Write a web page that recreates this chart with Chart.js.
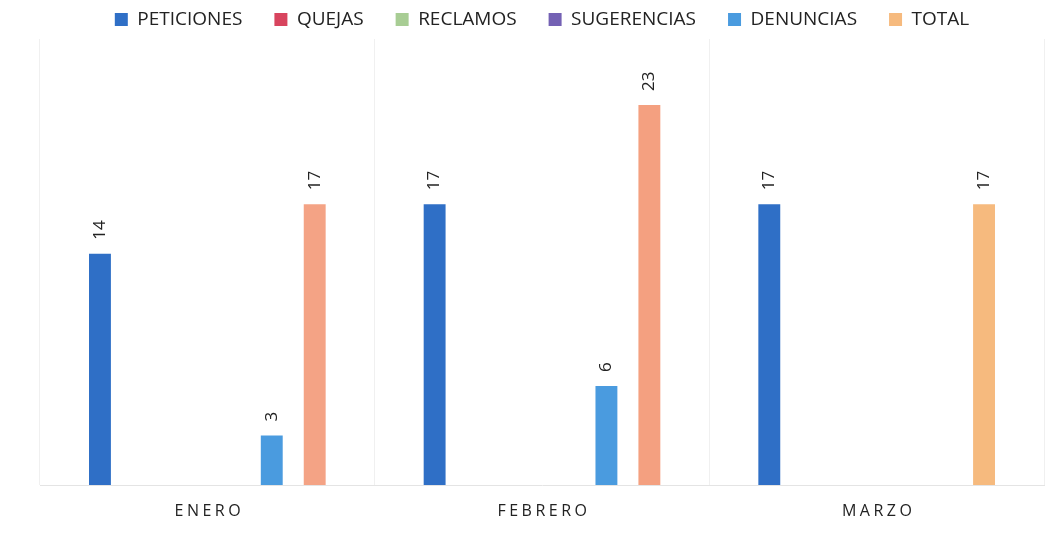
<!DOCTYPE html>
<html>
<head>
<meta charset="utf-8">
<script src="https://cdn.jsdelivr.net/npm/chart.js@4.4.1/dist/chart.umd.min.js"></script>
<style>
  html, body { margin: 0; padding: 0; background: #fff; }
  #wrap { width: 1064px; height: 539px; }
</style>
</head>
<body>
<div id="wrap"><canvas id="chart"></canvas></div>
<script>
// Data
const months = ['ENERO', 'FEBRERO', 'MARZO'];
const peticiones = [14, 17, 17];
const quejas = [0, 0, 0];
const reclamos = [0, 0, 0];
const sugerencias = [0, 0, 0];
const denuncias = [3, 6, 0];
const total = [17, 23, 17];

// draws the rotated value above each bar (skips zeros)
const valueLabels = {
    id: 'valueLabels',
    afterDatasetsDraw(chart) {
        const ctx = chart.ctx;
        ctx.save();
        ctx.font = '17px "Open Sans", sans-serif';
        ctx.fillStyle = '#222';
        ctx.textAlign = 'left';
        ctx.textBaseline = 'middle';
        chart.data.datasets.forEach((ds, i) => {
            const meta = chart.getDatasetMeta(i);
            meta.data.forEach((bar, j) => {
                const v = ds.data[j];
                if (!v) return;
                ctx.save();
                ctx.translate(bar.x, bar.y - 14);
                ctx.rotate(-Math.PI / 2);
                ctx.fillText(String(v), 0, 0);
                ctx.restore();
            });
        });
        ctx.restore();
    }
};

// month names with letter spacing
const spacedTicks = {
    id: 'spacedTicks',
    afterDraw(chart) {
        const ctx = chart.ctx;
        const x = chart.scales.x;
        ctx.save();
        ctx.font = '16px "Open Sans", sans-serif';
        ctx.letterSpacing = '3.5px';
        ctx.fillStyle = '#222';
        ctx.textAlign = 'center';
        ctx.textBaseline = 'middle';
        months.forEach((m, i) => {
            ctx.fillText(m, x.getPixelForValue(i) + 2, 511);
        });
        ctx.restore();
    }
};

const ctx = document.getElementById('chart').getContext('2d');
new Chart(ctx, {
    type: 'bar',
    data: {
        labels: months,
        datasets: [
            { label: 'PETICIONES', data: peticiones, backgroundColor: '#2F6FC6' },
            { label: 'QUEJAS', data: quejas, backgroundColor: '#D8445E' },
            { label: 'RECLAMOS', data: reclamos, backgroundColor: '#A8CD94' },
            { label: 'SUGERENCIAS', data: sugerencias, backgroundColor: '#7461B4' },
            { label: 'DENUNCIAS', data: denuncias, backgroundColor: '#4A9BDF' },
            { label: 'TOTAL', data: total, backgroundColor: ['#F4A385', '#F4A080', '#F6BA7E'] }
        ]
    },
    options: {
        responsive: true,
        maintainAspectRatio: false,
        animation: false,
        layout: { padding: { left: 40, right: 20, top: -22, bottom: 8 } },
        datasets: {
            bar: { barPercentage: 0.51, categoryPercentage: 0.77 }
        },
        plugins: {
            legend: {
                position: 'top',
                labels: {
                    font: { size: 19, family: '"Open Sans", sans-serif' },
                    color: '#222',
                    boxWidth: 13,
                    boxHeight: 13,
                    padding: 32,
                    generateLabels(chart) {
                        const items = Chart.defaults.plugins.legend.labels.generateLabels(chart);
                        items.forEach(it => {
                            const bg = chart.data.datasets[it.datasetIndex].backgroundColor;
                            if (Array.isArray(bg)) it.fillStyle = bg[2];
                            it.lineWidth = 0;
                        });
                        return items;
                    }
                }
            },
            tooltip: { enabled: false }
        },
        scales: {
            x: {
                grid: { display: true, offset: true, color: '#f0f0f0', drawTicks: false },
                border: { color: '#e4e4e4' },
                ticks: { color: 'rgba(0,0,0,0)', font: { size: 15 }, padding: 14 }
            },
            y: {
                display: false,
                min: 0,
                max: 27
            }
        }
    },
    plugins: [valueLabels, spacedTicks]
});
</script>
</body>
</html>
